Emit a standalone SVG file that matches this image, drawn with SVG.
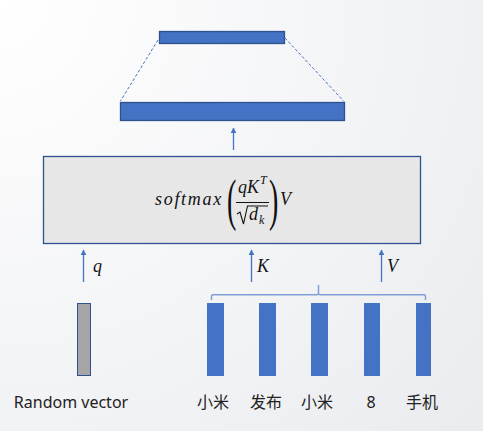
<svg xmlns="http://www.w3.org/2000/svg" width="483" height="431" viewBox="0 0 483 431">
<defs>
<radialGradient id="bg" cx="0" cy="0" r="620" gradientUnits="userSpaceOnUse">
<stop offset="0" stop-color="#ffffff"/>
<stop offset="0.6" stop-color="#f3f4f6"/>
<stop offset="1" stop-color="#eaecef"/>
</radialGradient>
<marker id="ah" viewBox="0 0 10 10" refX="9" refY="5" markerWidth="6" markerHeight="7" markerUnits="userSpaceOnUse" orient="auto">
<path d="M0,0 L10,5 L0,10 z" fill="#4472c4"/>
</marker>
<style>
.bar{fill:#4472c4;stroke:#2f528f;stroke-width:1.3}
.tok{fill:#4472c4}
.arr{stroke:#4472c4;stroke-width:1.3;fill:none;marker-end:url(#ah)}
.dash{stroke:#4472c4;stroke-width:1;stroke-dasharray:3 2;fill:none}
.brk{stroke:#7f9fd6;stroke-width:1.5;fill:none}
.math{font-family:"Liberation Serif",serif;font-style:italic;fill:#111}
.par{font-family:"Liberation Serif",serif;fill:#111}
.lbl{font-family:"Noto Sans","Noto Sans CJK SC",sans-serif;font-size:16px;fill:#222;text-anchor:middle}
</style>
</defs>
<rect width="483" height="431" fill="url(#bg)"/>

<g id="output-vector">
<rect class="bar" x="159.5" y="31.5" width="125" height="12"/>
</g>
<g id="attention-output">
<rect class="bar" x="120.5" y="102.5" width="224" height="18"/>
</g>
<g id="attention">
<rect x="43.5" y="156.5" width="377" height="87" fill="#e7e7e7" stroke="#2f528f" stroke-width="1.3"/>
<text class="math" x="155" y="205" font-size="18" letter-spacing="1.7">softmax</text>
<text class="par" x="0" y="0" font-size="56" transform="translate(227 219) scale(0.5 1)">(</text>
<text class="math" x="238" y="193" font-size="18">qK</text>
<text class="math" x="260" y="184" font-size="12">T</text>
<line x1="236" y1="202.5" x2="269" y2="202.5" stroke="#111" stroke-width="1.1"/>
<path d="M237,214 L240,212 L243.5,224 L247.5,206 L268,206" stroke="#111" stroke-width="1.1" fill="none"/>
<text class="math" x="249" y="220" font-size="18">d</text>
<text class="math" x="259" y="224" font-size="12">k</text>
<text class="par" x="0" y="0" font-size="56" transform="translate(269 219) scale(0.5 1)">)</text>
<text class="math" x="280" y="205" font-size="18">V</text>
</g>
<g id="random-vector">
<rect x="77.5" y="303.5" width="13" height="72" fill="#a5a5a5" stroke="#2f528f" stroke-width="1"/>
<text class="lbl" x="71" y="408">Random vector</text>
</g>
<g id="tok1"><rect class="tok" x="207" y="303" width="17" height="73"/><text class="lbl" x="213" y="408">小米</text></g>
<g id="tok2"><rect class="tok" x="259" y="303" width="17" height="73"/><text class="lbl" x="266" y="408">发布</text></g>
<g id="tok3"><rect class="tok" x="311" y="303" width="17" height="73"/><text class="lbl" x="317" y="408">小米</text></g>
<g id="tok4"><rect class="tok" x="364" y="303" width="16" height="73"/><text class="lbl" x="371" y="408">8</text></g>
<g id="tok5"><rect class="tok" x="416" y="303" width="15" height="73"/><text class="lbl" x="422" y="408">手机</text></g>

<g id="connectors">
<line class="dash" x1="158" y1="40" x2="120.5" y2="101"/>
<line class="dash" x1="285" y1="38" x2="344" y2="101.5"/>
<line class="arr" x1="233.5" y1="150" x2="233.5" y2="128"/>
<line class="arr" x1="83.5" y1="282" x2="83.5" y2="250"/>
<line class="arr" x1="251.5" y1="282" x2="251.5" y2="250"/>
<line class="arr" x1="381.5" y1="282" x2="381.5" y2="250"/>
<path class="brk" d="M211.5,300 L211.5,296 Q211.5,294.7 213,294.7 L317,294.7 Q318.5,294.7 318.5,293 L318.5,285 M318.5,293 Q318.5,294.7 320,294.7 L424,294.7 Q425.5,294.7 425.5,296 L425.5,300"/>
<text class="math" x="93" y="272" font-size="18">q</text>
<text class="math" x="257" y="272" font-size="18">K</text>
<text class="math" x="387" y="272" font-size="18">V</text>
</g>
</svg>
